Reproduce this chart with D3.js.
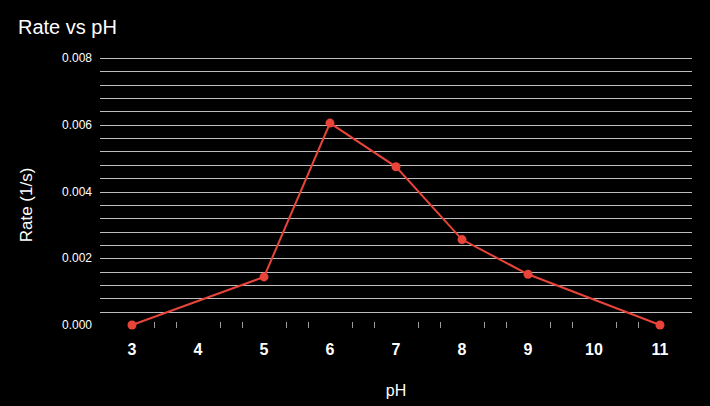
<!DOCTYPE html>
<html><head><meta charset="utf-8">
<script src="https://cdn.jsdelivr.net/npm/d3@7"></script>
<style>body{margin:0;background:#000;}svg{display:block;font-family:"Liberation Sans",Arial,sans-serif;}</style>
</head><body>
<script>
const phValues = [3, 5, 6, 7, 8, 9, 11];
const rateValues = [0, 0.00144, 0.00605, 0.00474, 0.00256, 0.00152, 0];
const xTickLabels = [3, 4, 5, 6, 7, 8, 9, 10, 11];
const yTickLabels = [0, 0.002, 0.004, 0.006, 0.008];
const yGridValues = d3.range(1, 21).map(i => i * 0.0004);
const xMinorTicks = d3.range(3, 11).flatMap(i => [i + 1/3, i + 2/3]);

const W = 710, H = 406;
const svg = d3.select("body").append("svg").attr("width", W).attr("height", H);
svg.append("rect").attr("width", W).attr("height", H).attr("fill", "#000");

const x = d3.scaleLinear().domain([2.5, 11.5]).range([99, 693]);
const y = d3.scaleLinear().domain([0, 0.008]).range([325, 58]);

// gridlines
svg.append("g").selectAll("line").data(yGridValues).join("line")
  .attr("x1", 100).attr("x2", 692)
  .attr("y1", d => Math.round(y(d)) + 0.5).attr("y2", d => Math.round(y(d)) + 0.5)
  .attr("stroke", "#bdbdbd").attr("stroke-width", 1);

// minor x ticks
svg.append("g").selectAll("line").data(xMinorTicks).join("line")
  .attr("x1", d => Math.round(x(d)) + 0.5).attr("x2", d => Math.round(x(d)) + 0.5)
  .attr("y1", 322).attr("y2", 328)
  .attr("stroke", "#9a9a9a").attr("stroke-width", 1);

// y labels
svg.append("g").selectAll("text").data(yTickLabels).join("text")
  .attr("x", 92).attr("y", d => y(d) + 4)
  .attr("text-anchor", "end").attr("fill", "#fff").attr("font-size", 12)
  .text(d => d3.format(".3f")(d));

// x labels
svg.append("g").selectAll("text").data(xTickLabels).join("text")
  .attr("x", d => x(d)).attr("y", 355)
  .attr("text-anchor", "middle").attr("fill", "#fff").attr("font-size", 16).attr("font-weight", "bold")
  .text(d => d);

// line
const data = phValues.map((p, i) => ({p, r: rateValues[i]}));
svg.append("path").datum(data)
  .attr("d", d3.line().x(d => x(d.p)).y(d => y(d.r)))
  .attr("fill", "none").attr("stroke", "#e8443a").attr("stroke-width", 2);
svg.append("g").selectAll("circle").data(data).join("circle")
  .attr("cx", d => x(d.p)).attr("cy", d => y(d.r)).attr("r", 4.5)
  .attr("fill", "#e8443a");

// titles
svg.append("text").attr("x", 18).attr("y", 34).attr("fill", "#fff").attr("font-size", 20).text("Rate vs pH");
svg.append("text").attr("x", 396).attr("y", 396).attr("text-anchor", "middle").attr("fill", "#fff").attr("font-size", 16).text("pH");
svg.append("text").attr("transform", "translate(32,205) rotate(-90)").attr("text-anchor", "middle")
  .attr("fill", "#fff").attr("font-size", 17).text("Rate (1/s)");
</script>
</body></html>
